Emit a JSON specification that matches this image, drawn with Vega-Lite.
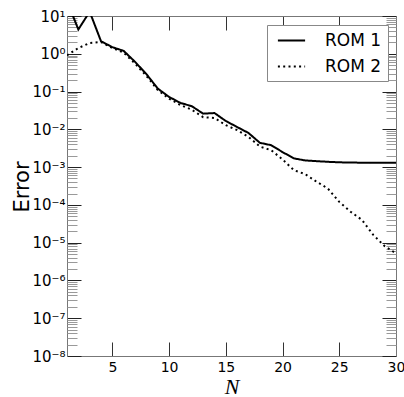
{
  "$schema": "https://vega.github.io/schema/vega-lite/v6.json",
  "width": 329,
  "height": 340,
  "autosize": "none",
  "padding": {"left": 67, "top": 16, "right": 8, "bottom": 41},
  "background": "white",
  "config": {
    "view": {"stroke": null},
    "axis": {"grid": false, "labelFlush": false, "labelFont": "DejaVu Sans", "labelFontSize": 14, "labelColor": "black", "domainColor": "#777", "titleFontWeight": "normal", "titleColor": "black"}
  },
  "data": {"values": [
    {"N": 1, "series": "ROM 1", "err": 25},
    {"N": 2, "series": "ROM 1", "err": 4.4},
    {"N": 3, "series": "ROM 1", "err": 13},
    {"N": 4, "series": "ROM 1", "err": 2.14},
    {"N": 5, "series": "ROM 1", "err": 1.5},
    {"N": 6, "series": "ROM 1", "err": 1.19},
    {"N": 7, "series": "ROM 1", "err": 0.61},
    {"N": 8, "series": "ROM 1", "err": 0.29},
    {"N": 9, "series": "ROM 1", "err": 0.12},
    {"N": 10, "series": "ROM 1", "err": 0.072},
    {"N": 11, "series": "ROM 1", "err": 0.05},
    {"N": 12, "series": "ROM 1", "err": 0.041},
    {"N": 13, "series": "ROM 1", "err": 0.026},
    {"N": 14, "series": "ROM 1", "err": 0.027},
    {"N": 15, "series": "ROM 1", "err": 0.0166},
    {"N": 16, "series": "ROM 1", "err": 0.0115},
    {"N": 17, "series": "ROM 1", "err": 0.008},
    {"N": 18, "series": "ROM 1", "err": 0.0044},
    {"N": 19, "series": "ROM 1", "err": 0.0038},
    {"N": 20, "series": "ROM 1", "err": 0.0025},
    {"N": 21, "series": "ROM 1", "err": 0.0017},
    {"N": 22, "series": "ROM 1", "err": 0.0015},
    {"N": 23, "series": "ROM 1", "err": 0.00144},
    {"N": 24, "series": "ROM 1", "err": 0.00138},
    {"N": 25, "series": "ROM 1", "err": 0.00134},
    {"N": 26, "series": "ROM 1", "err": 0.00132},
    {"N": 27, "series": "ROM 1", "err": 0.00131},
    {"N": 28, "series": "ROM 1", "err": 0.00131},
    {"N": 29, "series": "ROM 1", "err": 0.00131},
    {"N": 30, "series": "ROM 1", "err": 0.00131},
    {"N": 1, "series": "ROM 2", "err": 0.91},
    {"N": 2, "series": "ROM 2", "err": 1.42},
    {"N": 3, "series": "ROM 2", "err": 1.93},
    {"N": 4, "series": "ROM 2", "err": 2.05},
    {"N": 5, "series": "ROM 2", "err": 1.42},
    {"N": 6, "series": "ROM 2", "err": 1.07},
    {"N": 7, "series": "ROM 2", "err": 0.55},
    {"N": 8, "series": "ROM 2", "err": 0.26},
    {"N": 9, "series": "ROM 2", "err": 0.11},
    {"N": 10, "series": "ROM 2", "err": 0.065},
    {"N": 11, "series": "ROM 2", "err": 0.044},
    {"N": 12, "series": "ROM 2", "err": 0.033},
    {"N": 13, "series": "ROM 2", "err": 0.021},
    {"N": 14, "series": "ROM 2", "err": 0.02},
    {"N": 15, "series": "ROM 2", "err": 0.0129},
    {"N": 16, "series": "ROM 2", "err": 0.0095},
    {"N": 17, "series": "ROM 2", "err": 0.0063},
    {"N": 18, "series": "ROM 2", "err": 0.0035},
    {"N": 19, "series": "ROM 2", "err": 0.0028},
    {"N": 20, "series": "ROM 2", "err": 0.0016},
    {"N": 21, "series": "ROM 2", "err": 0.00083},
    {"N": 22, "series": "ROM 2", "err": 0.00065},
    {"N": 23, "series": "ROM 2", "err": 0.00041},
    {"N": 24, "series": "ROM 2", "err": 0.00027},
    {"N": 25, "series": "ROM 2", "err": 0.00012},
    {"N": 26, "series": "ROM 2", "err": 0.000066},
    {"N": 27, "series": "ROM 2", "err": 0.00004},
    {"N": 28, "series": "ROM 2", "err": 0.000016},
    {"N": 29, "series": "ROM 2", "err": 0.0000081},
    {"N": 30, "series": "ROM 2", "err": 0.0000052}
  ]},
  "resolve": {"axis": {"x": "independent", "y": "independent"}},
  "layer": [
    {
      "mark": {"type": "line", "clip": true, "strokeWidth": 2, "color": "black"},
      "encoding": {
        "x": {"field": "N", "type": "quantitative",
          "scale": {"domain": [1, 30], "nice": false, "zero": false},
          "axis": {"orient": "bottom", "values": [5, 10, 15, 20, 25, 30], "tickSize": -14, "tickColor": "#333", "labelPadding": 18,
            "title": "N", "titleFont": "Liberation Serif", "titleFontStyle": "italic", "titleFontSize": 22,
            "titleX": 164.5, "titleY": 37, "titleAlign": "center", "titleBaseline": "alphabetic"}},
        "y": {"field": "err", "type": "quantitative",
          "scale": {"type": "log", "domain": [1e-8, 10], "nice": false},
          "axis": {"orient": "left", "values": [1e-8, 1e-7, 1e-6, 1e-5, 1e-4, 1e-3, 1e-2, 1e-1, 1, 10], "tickSize": -14, "tickColor": "#222", "labelPadding": 16, "labelFontSize": 15,
            "labelExpr": "'10' + (round(log(datum.value)/LN10) < 0 ? '⁻' : '') + substring('⁰¹²³⁴⁵⁶⁷⁸⁹', abs(round(log(datum.value)/LN10)), abs(round(log(datum.value)/LN10)) + 1)",
            "title": "Error", "titleFont": "DejaVu Sans", "titleFontSize": 21, "titleAngle": -90,
            "titleX": -39, "titleY": 170.5, "titleAlign": "center", "titleBaseline": "alphabetic"}},
        "strokeDash": {"field": "series", "type": "nominal",
          "scale": {"domain": ["ROM 1", "ROM 2"], "range": [[1, 0], [2, 3.3]]},
          "legend": {"orient": "none", "legendX": 200, "legendY": 9, "title": null,
            "labelFont": "DejaVu Sans", "labelFontSize": 17, "labelColor": "black",
            "symbolType": "M-1.6,0H1.6", "symbolSize": 289, "symbolStrokeWidth": 2, "symbolStrokeColor": "black",
            "strokeColor": "#888", "fillColor": "white", "padding": 6, "rowPadding": 8, "symbolOffset": 9, "labelOffset": 24}}
      }
    },
    {
      "mark": {"type": "point", "opacity": 0},
      "encoding": {
        "x": {"field": "N", "type": "quantitative",
          "axis": {"orient": "top", "values": [5, 10, 15, 20, 25, 30], "tickSize": -14, "tickColor": "#333", "labels": false, "title": null}},
        "y": {"field": "err", "type": "quantitative",
          "axis": {"orient": "left", "domain": false, "labels": false, "title": null, "tickSize": -10, "tickColor": "#999",
            "values": [2e-8,3e-8,4e-8,5e-8,6e-8,7e-8,8e-8,9e-8,2e-7,3e-7,4e-7,5e-7,6e-7,7e-7,8e-7,9e-7,2e-6,3e-6,4e-6,5e-6,6e-6,7e-6,8e-6,9e-6,2e-5,3e-5,4e-5,5e-5,6e-5,7e-5,8e-5,9e-5,2e-4,3e-4,4e-4,5e-4,6e-4,7e-4,8e-4,9e-4,2e-3,3e-3,4e-3,5e-3,6e-3,7e-3,8e-3,9e-3,0.02,0.03,0.04,0.05,0.06,0.07,0.08,0.09,0.2,0.3,0.4,0.5,0.6,0.7,0.8,0.9,2,3,4,5,6,7,8,9]}}
      }
    },
    {
      "mark": {"type": "point", "opacity": 0},
      "encoding": {
        "x": {"field": "N", "type": "quantitative", "axis": null},
        "y": {"field": "err", "type": "quantitative",
          "axis": {"orient": "right", "labels": false, "title": null, "tickSize": -14, "tickColor": "#222",
            "values": [1e-8, 1e-7, 1e-6, 1e-5, 1e-4, 1e-3, 1e-2, 1e-1, 1, 10]}}
      }
    },
    {
      "mark": {"type": "point", "opacity": 0},
      "encoding": {
        "x": {"field": "N", "type": "quantitative", "axis": null},
        "y": {"field": "err", "type": "quantitative",
          "axis": {"orient": "right", "domain": false, "labels": false, "title": null, "tickSize": -10, "tickColor": "#999",
            "values": [2e-8,3e-8,4e-8,5e-8,6e-8,7e-8,8e-8,9e-8,2e-7,3e-7,4e-7,5e-7,6e-7,7e-7,8e-7,9e-7,2e-6,3e-6,4e-6,5e-6,6e-6,7e-6,8e-6,9e-6,2e-5,3e-5,4e-5,5e-5,6e-5,7e-5,8e-5,9e-5,2e-4,3e-4,4e-4,5e-4,6e-4,7e-4,8e-4,9e-4,2e-3,3e-3,4e-3,5e-3,6e-3,7e-3,8e-3,9e-3,0.02,0.03,0.04,0.05,0.06,0.07,0.08,0.09,0.2,0.3,0.4,0.5,0.6,0.7,0.8,0.9,2,3,4,5,6,7,8,9]}}
      }
    }
  ]
}
